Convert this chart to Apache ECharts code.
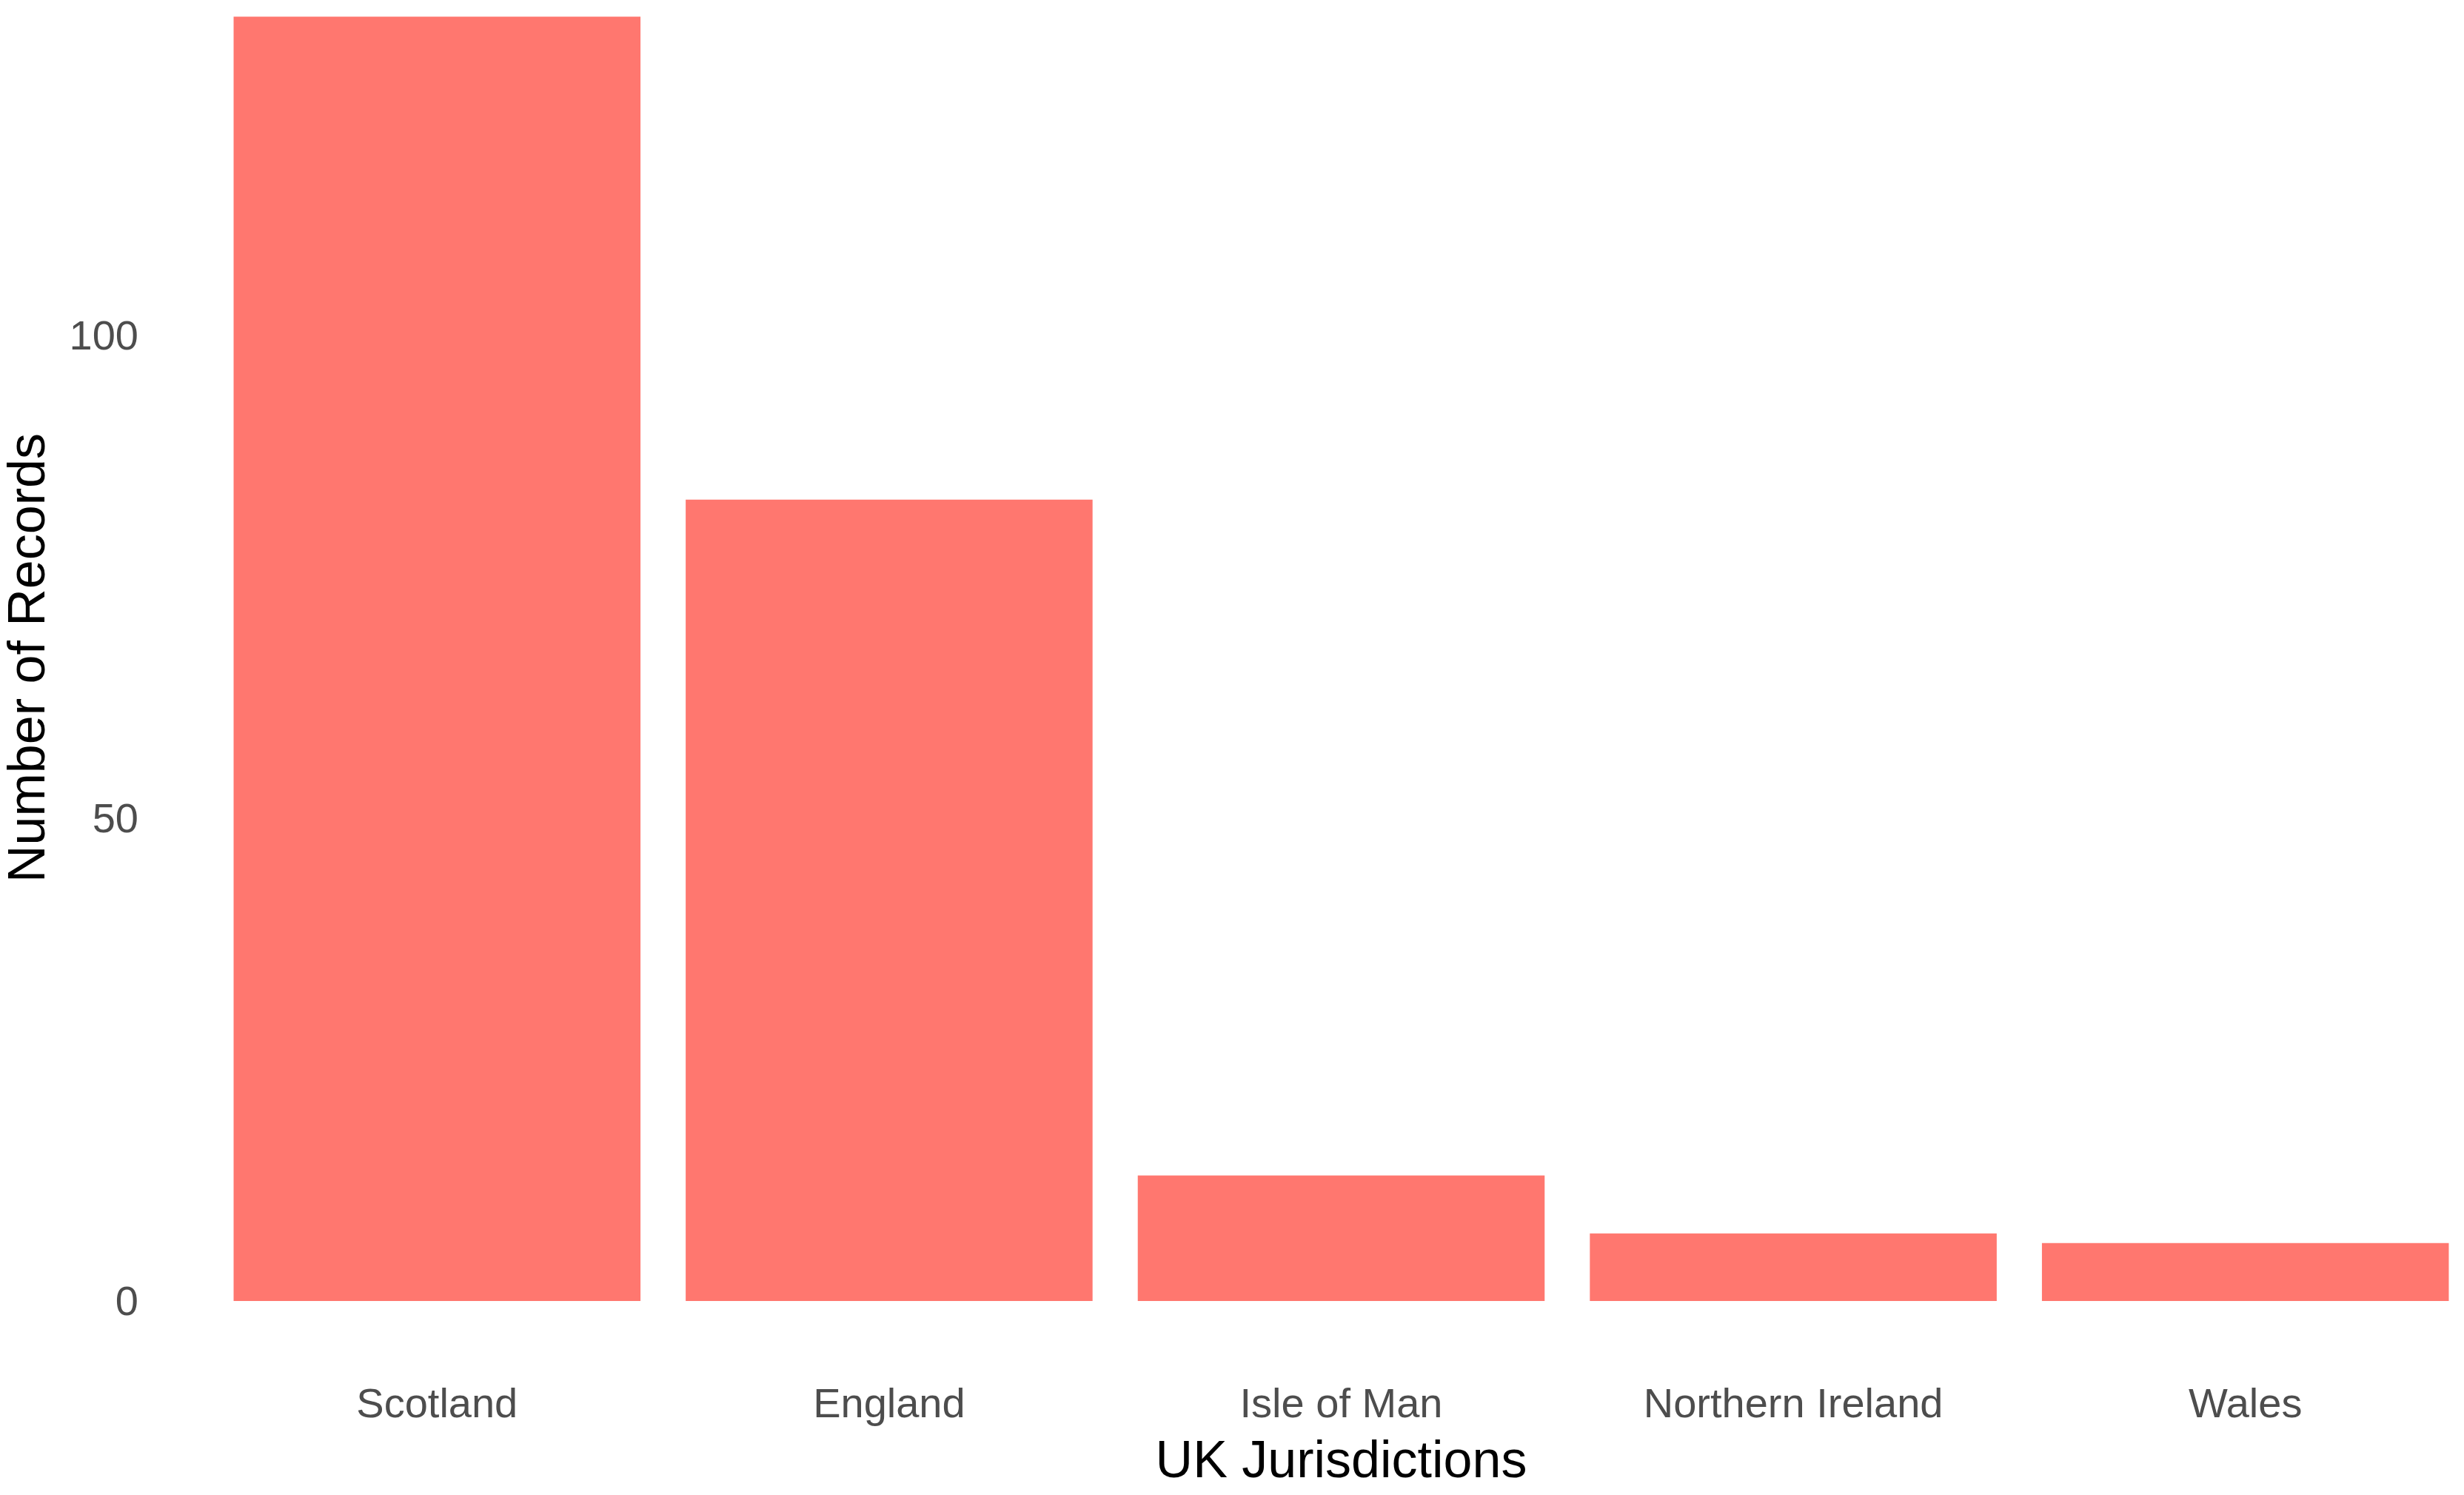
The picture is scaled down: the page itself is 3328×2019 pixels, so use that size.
<!DOCTYPE html>
<html>
<head>
<meta charset="utf-8">
<script src="https://cdn.jsdelivr.net/npm/echarts@6/dist/echarts.min.js"></script>
<style>
html,body{margin:0;padding:0;background:#fff;}
#chart{width:3328px;height:2019px;}
</style>
</head>
<body>
<div id="chart"></div>
<script>
const categories = ["Scotland", "England", "Isle of Man", "Northern Ireland", "Wales"];
const records = [133, 83, 13, 7, 6];
const yTicks = [0, 50, 100];

const FONT = "'Liberation Sans', Arial, sans-serif";
const chart = echarts.init(document.getElementById('chart'), null, {renderer: 'canvas'});
chart.setOption({
  backgroundColor: '#ffffff',
  animation: false,
  grid: {left: 285, width: 3053, top: 20, bottom: 262, containLabel: false, outerBoundsMode: 'none'},
  xAxis: {
    type: 'category',
    data: categories,
    name: 'UK Jurisdictions',
    nameLocation: 'middle',
    nameGap: 184,
    nameTextStyle: {color: '#000000', fontSize: 70, fontFamily: FONT},
    axisLine: {show: false},
    axisTick: {show: false},
    splitLine: {show: false},
    axisLabel: {color: '#4D4D4D', fontSize: 56, fontFamily: FONT, margin: 114, interval: 0}
  },
  yAxis: {
    type: 'value',
    min: 0,
    max: 133.2,
    interval: 50,
    name: 'Number of Records',
    nameLocation: 'middle',
    nameGap: 209,
    nameTextStyle: {color: '#000000', fontSize: 70, fontFamily: FONT},
    axisLine: {show: false},
    axisTick: {show: false},
    splitLine: {show: false},
    axisLabel: {
      color: '#4D4D4D', fontSize: 56, fontFamily: FONT, margin: 98,
      showMaxLabel: false,
      formatter: function (v) { return yTicks.indexOf(v) >= 0 ? '{t|' + v + '}' : ''; },
      rich: {t: {color: '#4D4D4D', fontSize: 56, fontFamily: FONT, padding: [8, 0, 0, 0]}}
    }
  },
  series: [{
    type: 'bar',
    data: records,
    barCategoryGap: '10%',
    itemStyle: {color: '#FF776F'}
  }]
});
</script>
</body>
</html>
